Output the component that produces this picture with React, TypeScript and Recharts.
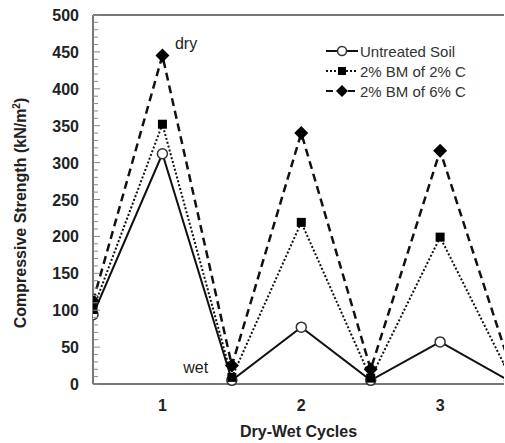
import React from "react";
import {
  LineChart, Line, XAxis, YAxis, ReferenceLine, ReferenceDot
} from "recharts";

const cycles = [0, 1, 2, 3, 4, 5, 6];
const untreated = [94, 312, 5, 77, 5, 57, 4];
const bm2c = [101, 352, 9, 219, 8, 199, 12];
const bm6c = [112, 445, 25, 340, 20, 316, 27];

const seriesNames = ["Untreated Soil", "2% BM of 2% C", "2% BM of 6% C"];
const cycleTicks = [1, 3, 5];
const cycleLabels = ["1", "2", "3"];
const yLabels = [0, 50, 100, 150, 200, 250, 300, 350, 400, 450, 500];
const yMinor = Array.from({ length: 51 }, (_, i) => i * 10);

const data = cycles.map((c, i) => ({
  x: c,
  untreated: untreated[i],
  bm2c: bm2c[i],
  bm6c: bm6c[i],
}));

const FONT = "'Liberation Sans', Arial, sans-serif";
const INK = "#111";
const AXIS = "#777";
const AXIS_X = 93;

function CircleDot(p: any) {
  if (p.cx == null || p.cy == null) return <g key={`c-${p.index}`} />;
  return <circle key={`c-${p.index}`} cx={p.cx} cy={p.cy} r={5} fill="#fff" stroke="#333" strokeWidth={1.5} />;
}

function SquareDot(p: any) {
  if (p.cx == null || p.cy == null) return <g key={`s-${p.index}`} />;
  return <rect key={`s-${p.index}`} x={p.cx - 4.5} y={p.cy - 4.5} width={9} height={9} fill="#000" />;
}

function DiamondDot(p: any) {
  if (p.cx == null || p.cy == null) return <g key={`d-${p.index}`} />;
  const r = 7;
  return (
    <path
      key={`d-${p.index}`}
      d={`M${p.cx},${p.cy - r} L${p.cx + r},${p.cy} L${p.cx},${p.cy + r} L${p.cx - r},${p.cy} Z`}
      fill="#000"
    />
  );
}

function YTick(p: any) {
  const v = p.payload.value;
  const major = yLabels.includes(v);
  return (
    <g>
      <line x1={AXIS_X} x2={AXIS_X + (major ? 7 : 5)} y1={p.y} y2={p.y} stroke="#888" strokeWidth={1} />
      {major && (
        <text x={79} y={p.y} dy={6} textAnchor="end" fontFamily={FONT} fontWeight="bold" fontSize={16} fill="#222">
          {v}
        </text>
      )}
    </g>
  );
}

function XTick(p: any) {
  const idx = cycleTicks.indexOf(p.payload.value);
  return (
    <text x={p.x} y={411} textAnchor="middle" fontFamily={FONT} fontWeight="bold" fontSize={16} fill="#222">
      {cycleLabels[idx]}
    </text>
  );
}

function LegendBox() {
  const rows = [
    { name: seriesNames[0], dash: undefined, mark: "circle" },
    { name: seriesNames[1], dash: "2 2", mark: "square" },
    { name: seriesNames[2], dash: "7 4", mark: "diamond" },
  ];
  return (
    <div style={{ position: "absolute", left: 326, top: 41, fontFamily: FONT, fontSize: 15, color: "#333" }}>
      {rows.map((r) => (
        <div key={r.name} style={{ display: "flex", alignItems: "center", height: 20 }}>
          <svg width={32} height={16} style={{ marginRight: 2 }}>
            <line x1={0} x2={32} y1={8} y2={8} stroke={INK} strokeWidth={2} strokeDasharray={r.dash} />
            {r.mark === "circle" && <circle cx={16} cy={8} r={4.5} fill="#fff" stroke="#333" strokeWidth={1.5} />}
            {r.mark === "square" && <rect x={12} y={4} width={8} height={8} fill="#000" />}
            {r.mark === "diamond" && <path d="M16,2 L22,8 L16,14 L10,8 Z" fill="#000" />}
          </svg>
          <span>{r.name}</span>
        </div>
      ))}
    </div>
  );
}

export default function App() {
  return (
    <div style={{ position: "absolute", left: 0, top: 0, width: 505, height: 443, background: "#fff" }}>
      <LineChart
        width={505}
        height={443}
        data={data}
        margin={{ top: 15, right: 1, left: 33, bottom: 29 }}
      >
        <XAxis
          dataKey="x"
          type="number"
          domain={[0, 5.92]}
          allowDataOverflow
          ticks={cycleTicks}
          tick={<XTick />}
          tickLine={false}
          axisLine={{ stroke: AXIS, strokeWidth: 2 }}
          height={30}
          label={{
            value: "Dry-Wet Cycles",
            position: "bottom",
            offset: 12,
            fontFamily: FONT,
            fontWeight: "bold",
            fontSize: 16,
            fill: "#222",
          }}
        />
        <YAxis
          type="number"
          domain={[0, 500]}
          ticks={yMinor}
          interval={0}
          tick={<YTick />}
          tickLine={false}
          axisLine={{ stroke: AXIS, strokeWidth: 2 }}
          width={60}
          label={{
            content: () => (
              <text
                x={26}
                y={213}
                transform="rotate(-90 26 213)"
                textAnchor="middle"
                fontFamily={FONT}
                fontWeight="bold"
                fontSize={16}
                fill="#222"
              >
                Compressive Strength (kN/m<tspan dy={-6} fontSize={10}>2</tspan><tspan dy={6}>)</tspan>
              </text>
            ),
          }}
        />
        <ReferenceLine y={500} stroke={AXIS} strokeWidth={2} ifOverflow="extendDomain" />
        <Line dataKey="untreated" name={seriesNames[0]} stroke={INK} strokeWidth={2} dot={CircleDot} isAnimationActive={false} />
        <Line dataKey="bm2c" name={seriesNames[1]} stroke={INK} strokeWidth={2} strokeDasharray="2 2" dot={SquareDot} isAnimationActive={false} />
        <Line dataKey="bm6c" name={seriesNames[2]} stroke={INK} strokeWidth={2.5} strokeDasharray="8 5" dot={DiamondDot} isAnimationActive={false} />
        <ReferenceDot x={1.18} y={462} r={0} label={{ value: "dry", position: "right", offset: 0, fontFamily: FONT, fontSize: 16, fill: "#222" }} />
        <ReferenceDot x={1.3} y={23} r={0} label={{ value: "wet", position: "right", offset: 0, fontFamily: FONT, fontSize: 16, fill: "#222" }} />
      </LineChart>
      <LegendBox />
    </div>
  );
}
